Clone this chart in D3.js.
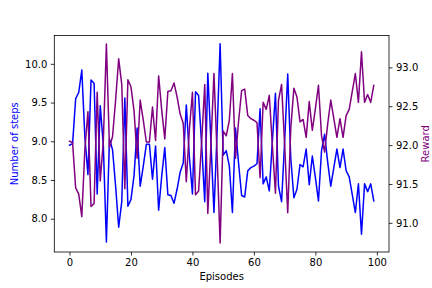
<!DOCTYPE html>
<html><head><meta charset="utf-8">
<script src="https://cdn.jsdelivr.net/npm/d3@7"></script>
<style>
body{margin:0;background:#fff}
svg{display:block}
text{font-family:"DejaVu Sans",sans-serif;font-size:10px}
</style>
</head><body>
<svg id="c" width="432" height="288"></svg>
<script>
// Number of steps per episode (left axis, blue)
const steps = [8.95,8.97,9.55,9.63,9.92,9.05,8.57,9.79,9.75,8.32,
9.46,8.95,7.70,9.03,8.89,8.42,7.89,8.22,9.56,8.16,
8.25,8.56,9.17,8.42,8.68,8.96,8.96,8.51,8.94,8.11,
8.55,8.92,8.31,8.30,8.20,8.38,8.60,8.72,9.47,8.80,
8.32,9.64,9.59,8.95,8.22,9.88,9.00,8.08,9.10,10.26,
8.82,8.88,8.68,8.08,9.17,8.72,8.30,8.28,8.62,8.66,
8.68,8.71,9.42,8.45,8.54,8.36,9.00,9.62,8.42,8.22,
9.00,9.87,8.78,8.27,8.38,8.70,8.67,8.90,8.44,8.81,
8.53,8.23,8.88,9.09,8.73,8.42,8.66,8.90,8.66,8.90,
8.62,8.54,8.31,8.08,8.45,7.80,8.45,8.35,8.45,8.23];
// Reward per episode (right axis, purple)
const reward = [92.05,92.03,91.45,91.37,91.08,91.95,92.43,91.21,91.25,92.68,
91.54,92.05,93.30,91.97,92.11,92.58,93.11,92.78,91.44,92.84,
92.75,92.44,91.83,92.58,92.32,92.04,92.04,92.49,92.06,92.89,
92.45,92.08,92.69,92.70,92.80,92.62,92.40,92.28,91.53,92.20,
92.68,91.36,91.41,92.05,92.78,91.12,92.00,92.92,91.90,90.74,
92.18,92.12,92.32,92.92,91.83,92.30,92.70,92.72,92.38,92.34,
92.32,92.29,91.58,92.55,92.46,92.64,92.00,91.38,92.58,92.78,
92.00,91.13,92.22,92.73,92.62,92.30,92.33,92.10,92.56,92.19,
92.47,92.77,92.12,91.91,92.27,92.58,92.34,92.10,92.34,92.10,
92.38,92.46,92.69,92.92,92.55,93.20,92.55,92.65,92.55,92.77];
const xTicks = [0,20,40,60,80,100];
const leftTicks = [8.0,8.5,9.0,9.5,10.0];
const rightTicks = [91.0,91.5,92.0,92.5,93.0];
const xLabel = "Episodes", leftLabel = "Number of steps", rightLabel = "Reward";

const L = 54.3, R = 389, T = 35.5, B = 252;
const svg = d3.select("#c");
const episodes = d3.range(steps.length);
const x = d3.scaleLinear().domain([-4.95, 103.95]).range([L, R]);
const yL = d3.scaleLinear().domain([7.57, 10.366]).range([B, T]);
const yR = d3.scaleLinear().domain([90.625, 93.41]).range([B, T]);

const lineL = d3.line().x((d,i)=>x(episodes[i])).y(d=>yL(d));
const lineR = d3.line().x((d,i)=>x(episodes[i])).y(d=>yR(d));

svg.append("path").datum(steps).attr("d", lineL)
  .attr("fill","none").attr("stroke","#0000ff").attr("stroke-width",1.5)
  .attr("stroke-linejoin","round").attr("stroke-linecap","square");
svg.append("path").datum(reward).attr("d", lineR)
  .attr("fill","none").attr("stroke","#800080").attr("stroke-width",1.5)
  .attr("stroke-linejoin","round").attr("stroke-linecap","square");

function styleAxis(g){
  g.select(".domain").remove();
  g.selectAll(".tick line").attr("stroke","#000").attr("stroke-width",0.8);
  g.selectAll(".tick text").attr("fill","#000").style("font-family","DejaVu Sans").style("font-size","10px");
}
svg.append("g").attr("transform",`translate(0,${B})`)
  .call(d3.axisBottom(x).tickValues(xTicks).tickFormat(d3.format("d")).tickSize(3.5).tickPadding(3.5))
  .call(styleAxis);
svg.append("g").attr("transform",`translate(${L},0)`)
  .call(d3.axisLeft(yL).tickValues(leftTicks).tickFormat(d3.format(".1f")).tickSize(3.5).tickPadding(3.5))
  .call(styleAxis);
svg.append("g").attr("transform",`translate(${R},0)`)
  .call(d3.axisRight(yR).tickValues(rightTicks).tickFormat(d3.format(".1f")).tickSize(3.5).tickPadding(3.5))
  .call(styleAxis);

svg.append("rect").attr("x",L).attr("y",T).attr("width",R-L).attr("height",B-T)
  .attr("fill","none").attr("stroke","#000").attr("stroke-width",0.8);

svg.append("text").attr("x",(L+R)/2).attr("y",280).attr("text-anchor","middle").attr("fill","#000").text(xLabel);
svg.append("text").attr("transform",`translate(17.5,${(T+B)/2}) rotate(-90)`).attr("text-anchor","middle").attr("fill","#0000ff").text(leftLabel);
svg.append("text").attr("transform",`translate(429,${(T+B)/2}) rotate(-90)`).attr("text-anchor","middle").attr("fill","#800080").text(rightLabel);
</script>
</body></html>
